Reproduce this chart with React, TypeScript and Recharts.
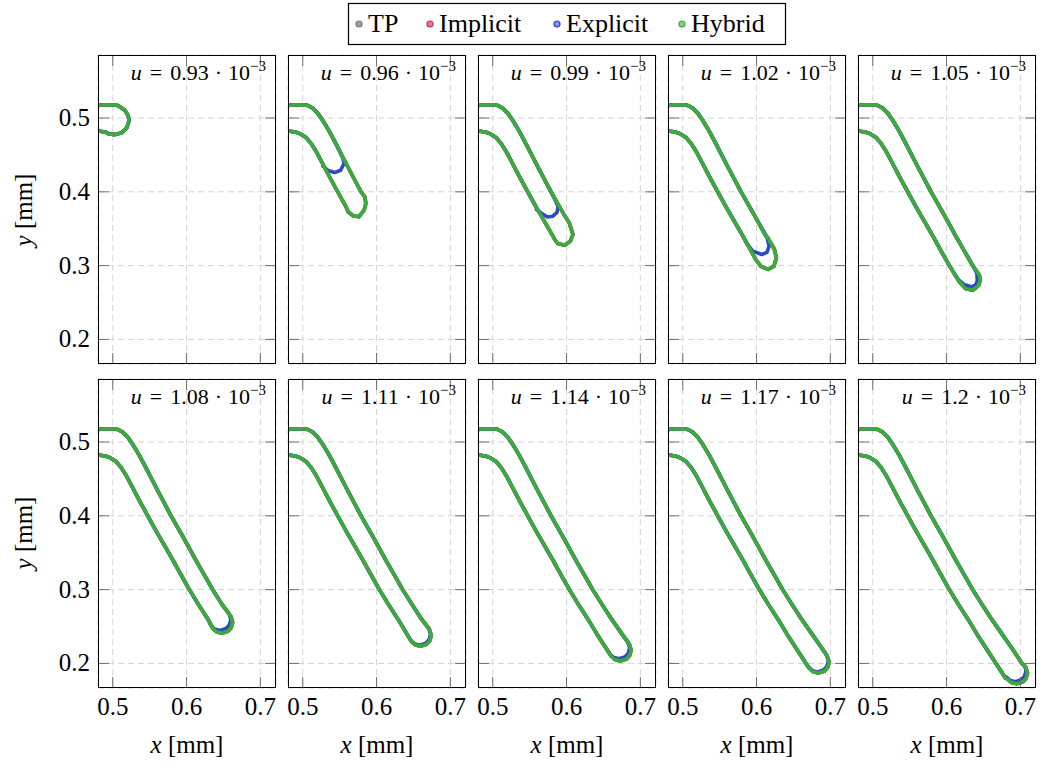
/**
 * Crack contour panels - ten small Recharts line charts, one per load step u.
 */

import React from 'react';
import { LineChart, Line, XAxis, YAxis, CartesianGrid } from 'recharts';

type Pt = [number, number];

// load steps shown in the panel titles (times 10^-3)
const DISPLACEMENTS = ['0.93', '0.96', '0.99', '1.02', '1.05', '1.08', '1.11', '1.14', '1.17', '1.2'];

const X_TICKS = [0.5, 0.6, 0.7];
const Y_TICKS = [0.2, 0.3, 0.4, 0.5];
const X_DOMAIN: [number, number] = [0.48, 0.7212];
const Y_DOMAIN: [number, number] = [0.1667, 0.5854];

// crack faces (left to right)
const UPPER_EDGE: Pt[] = [
  [0.48, 0.517], [0.49, 0.518], [0.5, 0.518], [0.507, 0.517], [0.514, 0.513],
  [0.52, 0.507], [0.527, 0.497], [0.536, 0.482], [0.545, 0.465], [0.561, 0.434],
  [0.579, 0.4], [0.596, 0.37], [0.6125, 0.34], [0.624, 0.32], [0.6354, 0.3],
  [0.648, 0.28], [0.661, 0.26], [0.675, 0.24], [0.689, 0.22], [0.7023, 0.2],
];

const LOWER_EDGE: Pt[] = [
  [0.48, 0.4825], [0.49, 0.481], [0.497, 0.4785], [0.504, 0.474], [0.511, 0.466],
  [0.518, 0.455], [0.527, 0.438], [0.537, 0.419], [0.5474, 0.4], [0.559, 0.379],
  [0.57, 0.36], [0.5815, 0.34], [0.5925, 0.32], [0.6038, 0.3], [0.616, 0.28],
  [0.629, 0.26], [0.641, 0.24], [0.654, 0.22], [0.667, 0.2], [0.68, 0.18],
];

// crack tip outlines per panel (Hybrid; TP and Implicit sit underneath it)
const HYBRID_TIPS: Pt[][] = [
  [[0.507, 0.517], [0.516, 0.511], [0.521, 0.503], [0.522, 0.496], [0.519, 0.487], [0.512, 0.48], [0.503, 0.4775], [0.494, 0.4788]],
  [[0.5841, 0.3932], [0.5855, 0.3842], [0.5832, 0.3752], [0.5759, 0.3662], [0.5682, 0.3676], [0.5614, 0.373]],
  [[0.6037, 0.3579], [0.6086, 0.3421], [0.605, 0.333], [0.5973, 0.3277], [0.588, 0.33], [0.584, 0.3354]],
  [[0.6146, 0.3385], [0.624, 0.3225], [0.6269, 0.3106], [0.6235, 0.299], [0.6156, 0.2948], [0.606, 0.299], [0.599, 0.308]],
  [[0.639, 0.295], [0.6445, 0.287], [0.6457, 0.28], [0.6432, 0.273], [0.6358, 0.2668], [0.6259, 0.2686], [0.6185, 0.2767]],
  [[0.66, 0.2639], [0.6625, 0.2557], [0.6605, 0.2483], [0.656, 0.2435], [0.6478, 0.241], [0.6404, 0.243], [0.6356, 0.2475]],
  [[0.6716, 0.2462], [0.6741, 0.238], [0.6721, 0.2306], [0.6676, 0.2258], [0.6594, 0.2233], [0.652, 0.2253], [0.6472, 0.2298]],
  [[0.685, 0.2262], [0.6875, 0.218], [0.6855, 0.2106], [0.681, 0.2058], [0.6728, 0.2033], [0.6654, 0.2053], [0.6606, 0.2098]],
  [[0.6958, 0.2099], [0.6983, 0.2017], [0.6963, 0.1943], [0.6918, 0.1895], [0.6836, 0.187], [0.6762, 0.189], [0.6714, 0.1935]],
  [[0.7072, 0.1952], [0.7097, 0.187], [0.7077, 0.1796], [0.7032, 0.1748], [0.695, 0.1723], [0.6876, 0.1743], [0.6828, 0.1788]],
];

const EXPLICIT_TIPS: Pt[][] = [
  [[0.507, 0.517], [0.516, 0.511], [0.521, 0.503], [0.522, 0.496], [0.519, 0.487], [0.512, 0.48], [0.503, 0.4775], [0.494, 0.4788]],
  [[0.55, 0.455], [0.5545, 0.445], [0.5559, 0.4383], [0.5514, 0.4293], [0.5432, 0.4261], [0.5341, 0.429], [0.5273, 0.435]],
  [[0.584, 0.39], [0.5885, 0.38], [0.587, 0.372], [0.5815, 0.367], [0.5741, 0.366], [0.566, 0.371], [0.5593, 0.376]],
  [[0.6047, 0.355], [0.614, 0.339], [0.617, 0.3263], [0.614, 0.318], [0.6072, 0.3151], [0.5948, 0.3196], [0.5874, 0.329]],
  [[0.636, 0.299], [0.641, 0.29], [0.6417, 0.279], [0.639, 0.2735], [0.6333, 0.2713], [0.6235, 0.2745], [0.616, 0.281]],
  [[0.6575, 0.2676], [0.66, 0.2594], [0.658, 0.252], [0.6535, 0.2472], [0.6453, 0.2447], [0.6379, 0.2467], [0.6331, 0.2512]],
  [[0.6706, 0.2477], [0.6731, 0.2395], [0.6711, 0.2321], [0.6666, 0.2273], [0.6584, 0.2248], [0.651, 0.2268], [0.6462, 0.2313]],
  [[0.683, 0.2292], [0.6855, 0.221], [0.6835, 0.2136], [0.679, 0.2088], [0.6708, 0.2063], [0.6634, 0.2083], [0.6586, 0.2128]],
  [[0.6948, 0.2114], [0.6973, 0.2032], [0.6953, 0.1958], [0.6908, 0.191], [0.6826, 0.1885], [0.6752, 0.1905], [0.6704, 0.195]],
  [[0.7052, 0.1982], [0.7077, 0.19], [0.7057, 0.1826], [0.7012, 0.1778], [0.693, 0.1753], [0.6856, 0.1773], [0.6808, 0.1818]],
];

const SERIES = [
  { name: 'TP', tips: HYBRID_TIPS, color: '#7a7a7a', fill: '#a0a0a0' },
  { name: 'Implicit', tips: HYBRID_TIPS, color: '#c0305a', fill: '#e07a98' },
  { name: 'Explicit', tips: EXPLICIT_TIPS, color: '#2f49c4', fill: '#7d90e6' },
  { name: 'Hybrid', tips: HYBRID_TIPS, color: '#38ad3c', fill: '#7fd67f' },
];

const FONT = "'Liberation Serif', 'Times New Roman', serif";

// layout (px)
const PW = 178;
const PH = 309;
const PL = 60;
const PT = 10;
const PR = 10;
const PB = 45;
const TICK_LEN = 11;
const LEGEND_X = [359, 430, 557, 682];

// upper face up to the tip, round the tip, back along the lower face
const buildContour = (tip: Pt[]) => {
  const sx = tip[0][0];
  const ex = tip[tip.length - 1][0];
  const upper = UPPER_EDGE.filter(([x]) => x < sx);
  const lower = LOWER_EDGE.filter(([x]) => x < ex).reverse();
  return [...upper, ...tip, ...lower].map(([x, y]) => ({ x, y }));
};

const Panel: React.FC<{ index: number }> = ({ index }) => {
  const row = Math.floor(index / 5);
  const col = index % 5;
  const left = 98 + 190 * col;
  const top = row === 0 ? 55 : 379;

  const xTick = (p: any) => (
    <g>
      <line x1={p.x} x2={p.x} y1={PT + PH} y2={PT + PH - TICK_LEN} stroke="#6e6e6e" />
      <line x1={p.x} x2={p.x} y1={PT} y2={PT + TICK_LEN} stroke="#6e6e6e" />
      {row === 1 && (
        <text x={p.x} y={PT + PH + 27} textAnchor="middle" fontSize={25} fontFamily={FONT} fill="#000">
          {p.payload.value}
        </text>
      )}
    </g>
  );

  const yTick = (p: any) => (
    <g>
      <line x1={PL} x2={PL + TICK_LEN} y1={p.y} y2={p.y} stroke="#6e6e6e" />
      <line x1={PL + PW} x2={PL + PW - TICK_LEN} y1={p.y} y2={p.y} stroke="#6e6e6e" />
      {col === 0 && (
        <text x={PL - 8} y={p.y + 8} textAnchor="end" fontSize={25} fontFamily={FONT} fill="#000">
          {p.payload.value}
        </text>
      )}
    </g>
  );

  return (
    <div style={{ position: 'absolute', left: left - PL, top: top - PT }}>
      <LineChart
        width={PL + PW + PR}
        height={PT + PH + PB}
        margin={{ top: PT, right: PR, bottom: 0, left: 0 }}
      >
        <CartesianGrid stroke="#d4d4d4" strokeDasharray="6 4" />
        <XAxis
          type="number"
          dataKey="x"
          domain={X_DOMAIN}
          allowDataOverflow
          ticks={X_TICKS}
          interval={0}
          height={PB}
          axisLine={false}
          tickLine={false}
          tick={xTick}
        />
        <YAxis
          type="number"
          dataKey="y"
          domain={Y_DOMAIN}
          allowDataOverflow
          ticks={Y_TICKS}
          interval={0}
          width={PL}
          axisLine={false}
          tickLine={false}
          tick={yTick}
        />
        {SERIES.map((s) => (
          <Line
            key={s.name}
            name={s.name}
            data={buildContour(s.tips[index])}
            dataKey="y"
            type="linear"
            stroke={s.color}
            strokeWidth={3.6}
            strokeLinejoin="round"
            dot={false}
            activeDot={false}
            isAnimationActive={false}
          />
        ))}
      </LineChart>
      <div
        style={{
          position: 'absolute',
          left: PL,
          top: PT,
          width: PW,
          height: PH,
          border: '1.2px solid #000',
          boxSizing: 'border-box',
          pointerEvents: 'none',
        }}
      />
    </div>
  );
};

const App: React.FC = () => {
  return (
    <div style={{ position: 'absolute', left: 0, top: 0, width: 1042, height: 767, background: '#fff' }}>
      {DISPLACEMENTS.map((_, i) => (
        <Panel key={i} index={i} />
      ))}
      <svg
        width={1042}
        height={767}
        style={{ position: 'absolute', left: 0, top: 0, pointerEvents: 'none' }}
        fontFamily={FONT}
      >
        {/* legend */}
        <rect x={348.5} y={3.5} width={437} height={41} fill="#fff" stroke="#000" strokeWidth={1.2} />
        {SERIES.map((s, i) => (
          <g key={s.name}>
            <circle cx={LEGEND_X[i]} cy={24} r={3} fill={s.fill} stroke={s.color} strokeWidth={1.2} />
            <text x={LEGEND_X[i] + 9} y={32} fontSize={26}>
              {s.name}
            </text>
          </g>
        ))}

        {/* panel titles */}
        {DISPLACEMENTS.map((u, i) => {
          const row = Math.floor(i / 5);
          const col = i % 5;
          const right = 98 + 190 * col + 168;
          const base = (row === 0 ? 55 : 379) + 25;
          return (
            <text key={u} x={right} y={base} textAnchor="end" fontSize={22}>
              <tspan fontStyle="italic">u</tspan>
              <tspan dx={8}>=</tspan>
              <tspan dx={8}>{u}</tspan>
              <tspan dx={6}>·</tspan>
              <tspan dx={6}>10</tspan>
              <tspan dy={-9} fontSize={15}>−3</tspan>
            </text>
          );
        })}

        {/* axis titles */}
        {[210, 533].map((cy) => (
          <text key={cy} transform={`translate(32, ${cy}) rotate(-90)`} textAnchor="middle" fontSize={25}>
            <tspan fontStyle="italic">y</tspan> [mm]
          </text>
        ))}
        {[0, 1, 2, 3, 4].map((c) => (
          <text key={c} x={98 + 190 * c + 89} y={753} textAnchor="middle" fontSize={25}>
            <tspan fontStyle="italic">x</tspan> [mm]
          </text>
        ))}
      </svg>
    </div>
  );
};

export default App;
